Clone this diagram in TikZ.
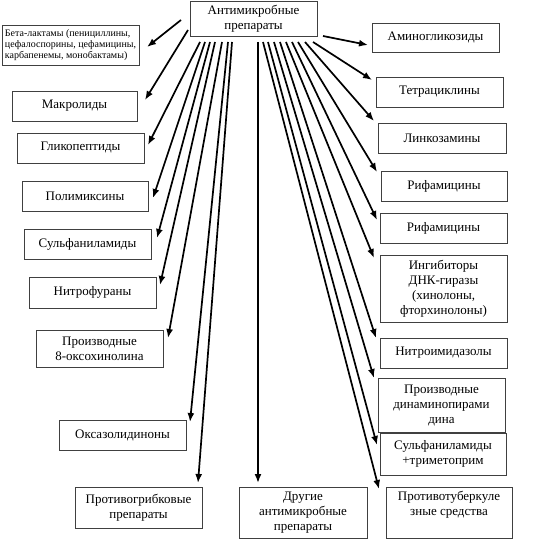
\documentclass[tikz,border=0pt]{standalone}
\usepackage{fontspec}
\setmainfont{Liberation Serif}
\usetikzlibrary{arrows.meta}
\tikzset{
  box/.style={draw=black!75, line width=0.8pt, inner sep=0pt, align=center,
    font=\fontsize{13}{15}\selectfont, minimum width=127pt, minimum height=30pt},
  arr/.style={line width=1.7pt, -{Latex[length=9pt,width=7pt]}},
}
\begin{document}
\begin{tikzpicture}[x=1pt,y=-1pt]
\useasboundingbox (0,0) rectangle (557,540);
% boxes
\node[box] (top) at (253.5,18.5) [minimum height=35pt] {Антимикробные\\препараты};
\node[box, minimum width=137pt, minimum height=40pt, font=\fontsize{10}{11}\selectfont, align=left] (beta) at (70.5,45) {Бета-лактамы (пенициллины,\\цефалоспорины, цефамицины,\\карбапенемы, монобактамы)};
\node[box, minimum width=125pt] (makr) at (74.5,106) {Макролиды};
\node[box] (glyc) at (80.5,148) {Гликопептиды};
\node[box, minimum width=126pt] (polym) at (85,196) {Полимиксины};
\node[box] (sulf) at (87.5,244) {Сульфаниламиды};
\node[box, minimum height=31pt] (nitrof) at (92.5,292.5) {Нитрофураны};
\node[box, minimum height=37pt] (oxo) at (99.5,348.5) {Производные\\8-оксохинолина};
\node[box] (oxaz) at (122.5,435) {Оксазолидиноны};
\node[box, minimum height=41pt] (antif) at (138.5,507.5) {Противогрибковые\\препараты};
\node[box, minimum width=128pt, minimum height=51pt] (other) at (303,512.5) {Другие\\антимикробные\\препараты};
\node[box, minimum height=29pt] (amino) at (435.5,37.5) {Аминогликозиды};
\node[box] (tetra) at (439.5,92) {Тетрациклины};
\node[box, minimum width=128pt] (linco) at (442,138) {Линкозамины};
\node[box, minimum width=126pt] (rif1) at (444,186) {Рифамицины};
\node[box] (rif2) at (443.5,228) {Рифамицины};
\node[box, minimum height=67pt] (ingib) at (443.5,288.5) {Ингибиторы\\ДНК-гиразы\\(хинолоны,\\фторхинолоны)};
\node[box] (nitroim) at (443.5,353) {Нитроимидазолы};
\node[box, minimum height=54pt] (diam) at (441.5,405) {Производные\\динаминопирами\\дина};
\node[box, minimum width=126pt, minimum height=42pt] (sulftri) at (443,454) {Сульфаниламиды\\+триметоприм};
\node[box, minimum width=126pt, minimum height=51pt] (antitb) at (449,512.5) {Противотуберкуле\\зные средства\\[4pt]};
% start points
\coordinate (sBeta) at (181,20);  \coordinate (eBeta) at (147,47);
\coordinate (sMakr) at (188,30);  \coordinate (eMakr) at (145,100);
\coordinate (sGlyc) at (200,42);  \coordinate (eGlyc) at (148,145);
\coordinate (sPolym) at (205,42); \coordinate (ePolym) at (153,198);
\coordinate (sSulf) at (210,42);  \coordinate (eSulf) at (157,238);
\coordinate (sNitrof) at (215,42);\coordinate (eNitrof) at (160,285);
\coordinate (sOxo) at (222,42);   \coordinate (eOxo) at (168,338);
\coordinate (sOxaz) at (228,42);  \coordinate (eOxaz) at (190,422);
\coordinate (sAntif) at (232,42); \coordinate (eAntif) at (198,483);
\coordinate (sOther) at (258,42); \coordinate (eOther) at (258,483);
\coordinate (sAmino) at (323,36); \coordinate (eAmino) at (368,45);
\coordinate (sTetra) at (313,42); \coordinate (eTetra) at (372,80);
\coordinate (sLinco) at (305,42); \coordinate (eLinco) at (374,121);
\coordinate (sRif1) at (298,42);  \coordinate (eRif1) at (377,172);
\coordinate (sRif2) at (292,42);  \coordinate (eRif2) at (377,220);
\coordinate (sIngib) at (286,42); \coordinate (eIngib) at (374,258);
\coordinate (sNitroim) at (280,42);\coordinate (eNitroim) at (376,338);
\coordinate (sDiam) at (274,42);  \coordinate (eDiam) at (374,378);
\coordinate (sSulftri) at (268,42);\coordinate (eSulftri) at (377,445);
\coordinate (sAntitb) at (263,42);\coordinate (eAntitb) at (379,489);
% arrows
\foreach \n in {Beta,Makr,Glyc,Polym,Sulf,Nitrof,Oxo,Oxaz,Antif,Other,Amino,Tetra,Linco,Rif1,Rif2,Ingib,Nitroim,Diam,Sulftri,Antitb}
  \draw[arr] (s\n) -- (e\n);
\end{tikzpicture}
\end{document}
